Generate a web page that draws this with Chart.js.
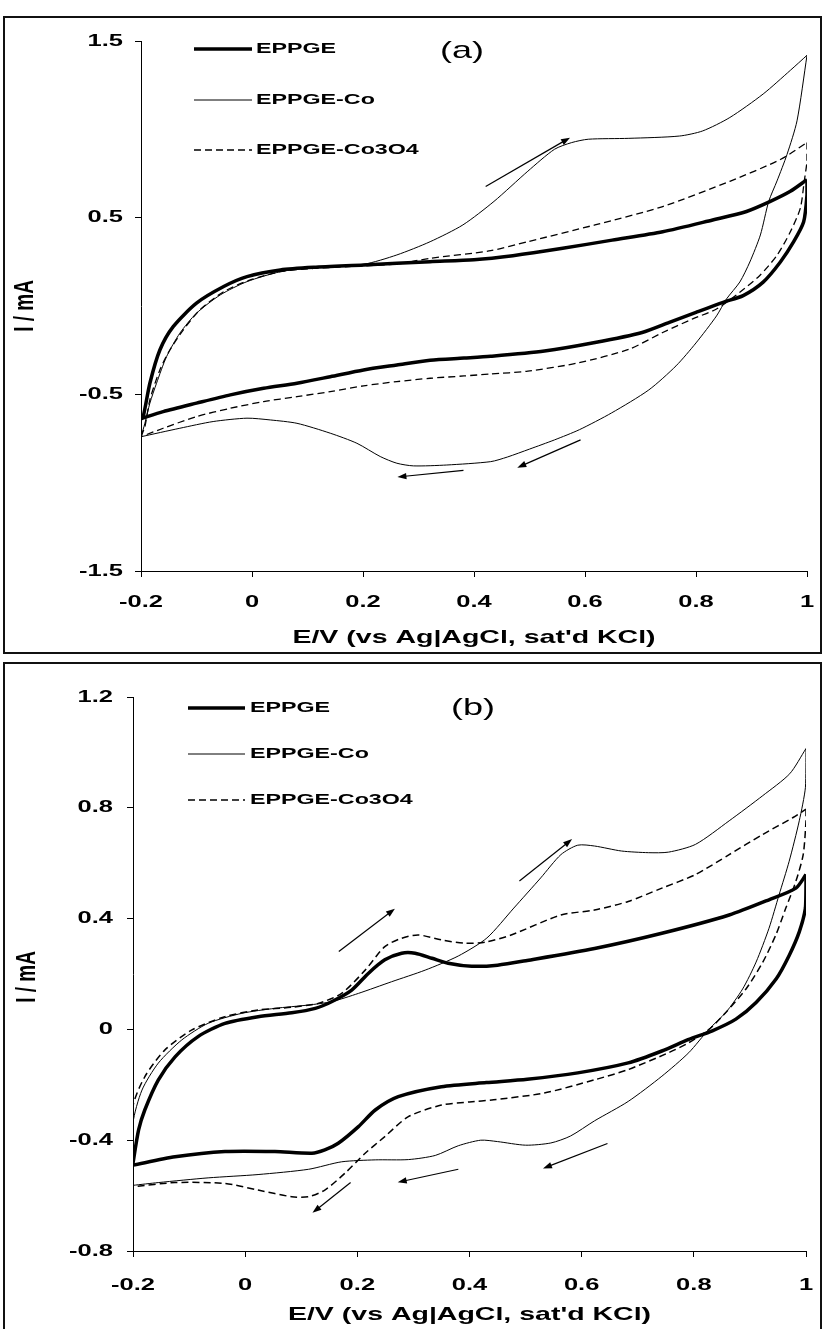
<!DOCTYPE html>
<html>
<head>
<meta charset="utf-8">
<script src="https://cdn.jsdelivr.net/npm/chart.js@4.4.1/dist/chart.umd.min.js"></script>
<style>
  html, body { margin: 0; padding: 0; background: #fff; width: 823px; height: 1329px; overflow: hidden; }
  .frame { position: absolute; border: 2px solid #111; box-sizing: border-box; }
  canvas { position: absolute; left: 0; }
</style>
</head>
<body>
<div class="frame" style="left:3px;top:16px;width:819px;height:638px"></div>
<div class="frame" style="left:3px;top:662px;width:819px;height:700px"></div>
<canvas id="chartA" width="823" height="653" style="top:0;width:823px;height:653px"></canvas>
<canvas id="chartB" width="823" height="674" style="top:655px;width:823px;height:674px"></canvas>
<script>
// axis ticks and labels
const xTicks = [-0.2, 0, 0.2, 0.4, 0.6, 0.8, 1];
const aYTicks = [-1.5, -0.5, 0.5, 1.5];
const bYTicks = [-0.8, -0.4, 0, 0.4, 0.8, 1.2];
const seriesNames = ['EPPGE', 'EPPGE-Co', 'EPPGE-Co3O4'];
const xTitle = "E/V (vs Ag|AgCl, sat'd KCl)";
const yTitle = 'I / mA';

// ---- (a) : [E, I] pairs, forward (anodic) and reverse sweep
const aEppgeFwd = [[-0.2,-0.638],[-0.196,-0.626],[-0.184,-0.437],[-0.166,-0.249],[-0.142,-0.117],[-0.1,0.016],[-0.051,0.11],[-0.009,0.166],[0.051,0.204],[0.111,0.219],[0.201,0.232],[0.321,0.251],[0.4,0.262],[0.47,0.285],[0.557,0.325],[0.649,0.373],[0.74,0.42],[0.83,0.487],[0.891,0.535],[0.934,0.592],[0.97,0.649],[1.0,0.715]];
const aEppgeRev = [[1.0,0.715],[1.0,0.63],[0.994,0.477],[0.976,0.364],[0.952,0.249],[0.921,0.135],[0.885,0.059],[0.849,0.021],[0.8,-0.036],[0.752,-0.093],[0.703,-0.15],[0.618,-0.207],[0.527,-0.255],[0.43,-0.285],[0.382,-0.295],[0.321,-0.307],[0.261,-0.334],[0.201,-0.362],[0.141,-0.4],[0.081,-0.437],[0.021,-0.466],[-0.039,-0.503],[-0.1,-0.55],[-0.16,-0.598],[-0.2,-0.638]];
const aCoFwd = [[-0.2,-0.74],[-0.193,-0.664],[-0.184,-0.55],[-0.172,-0.437],[-0.154,-0.287],[-0.13,-0.154],[-0.1,-0.041],[-0.057,0.063],[-0.009,0.138],[0.051,0.194],[0.111,0.217],[0.201,0.236],[0.261,0.289],[0.321,0.364],[0.38,0.459],[0.436,0.592],[0.497,0.763],[0.545,0.887],[0.576,0.925],[0.606,0.944],[0.679,0.949],[0.77,0.962],[0.812,0.991],[0.861,1.067],[0.921,1.2],[0.97,1.334],[1.0,1.419]];
const aCoRev = [[1.0,1.419],[0.982,1.048],[0.964,0.858],[0.946,0.708],[0.931,0.592],[0.916,0.402],[0.897,0.249],[0.879,0.136],[0.855,0.04],[0.837,-0.056],[0.8,-0.209],[0.764,-0.339],[0.715,-0.475],[0.648,-0.605],[0.59,-0.7],[0.545,-0.758],[0.5,-0.81],[0.46,-0.855],[0.43,-0.881],[0.351,-0.9],[0.291,-0.905],[0.261,-0.89],[0.231,-0.852],[0.189,-0.777],[0.141,-0.72],[0.081,-0.664],[0.033,-0.645],[-0.009,-0.635],[-0.07,-0.654],[-0.13,-0.692],[-0.2,-0.74]];
const aOxFwd = [[-0.2,-0.74],[-0.193,-0.683],[-0.184,-0.531],[-0.166,-0.362],[-0.148,-0.249],[-0.124,-0.136],[-0.094,-0.022],[-0.051,0.081],[-0.003,0.148],[0.051,0.194],[0.111,0.213],[0.201,0.227],[0.261,0.238],[0.321,0.27],[0.43,0.313],[0.497,0.364],[0.618,0.459],[0.74,0.563],[0.861,0.706],[0.952,0.829],[1.0,0.925]];
const aOxRev = [[1.0,0.925],[1.0,0.82],[0.995,0.706],[0.988,0.554],[0.97,0.42],[0.946,0.287],[0.915,0.173],[0.879,0.078],[0.837,-0.017],[0.794,-0.073],[0.74,-0.15],[0.679,-0.245],[0.588,-0.322],[0.497,-0.369],[0.43,-0.385],[0.382,-0.396],[0.321,-0.409],[0.261,-0.428],[0.201,-0.452],[0.141,-0.485],[0.081,-0.513],[0.021,-0.541],[-0.039,-0.579],[-0.1,-0.626],[-0.16,-0.692],[-0.2,-0.74]];
const aArrows = [[[0.421,0.677],[0.573,0.953]], [[0.592,-0.758],[0.478,-0.915]], [[0.381,-0.93],[0.262,-0.968]]];

// ---- (b)
const bEppgeFwd = [[-0.2,-0.49],[-0.2,-0.483],[-0.19,-0.363],[-0.179,-0.291],[-0.155,-0.183],[-0.125,-0.099],[-0.084,-0.026],[-0.036,0.022],[0.023,0.046],[0.083,0.06],[0.125,0.076],[0.154,0.1],[0.19,0.142],[0.22,0.203],[0.249,0.251],[0.279,0.275],[0.303,0.275],[0.333,0.257],[0.362,0.239],[0.404,0.228],[0.45,0.232],[0.503,0.249],[0.623,0.292],[0.743,0.347],[0.863,0.413],[0.934,0.468],[0.982,0.51],[1.0,0.559]];
const bEppgeRev = [[1.0,0.559],[1.0,0.522],[0.999,0.438],[0.988,0.352],[0.97,0.267],[0.947,0.183],[0.911,0.097],[0.875,0.037],[0.833,-0.005],[0.791,-0.036],[0.743,-0.078],[0.683,-0.121],[0.593,-0.157],[0.503,-0.18],[0.43,-0.192],[0.35,-0.207],[0.273,-0.243],[0.232,-0.291],[0.202,-0.351],[0.166,-0.411],[0.142,-0.435],[0.119,-0.447],[0.053,-0.441],[-0.036,-0.441],[-0.125,-0.46],[-0.2,-0.49]];
const bCoFwd = [[-0.2,-0.563],[-0.2,-0.339],[-0.184,-0.219],[-0.155,-0.122],[-0.113,-0.038],[-0.066,0.022],[-0.006,0.058],[0.053,0.076],[0.113,0.088],[0.154,0.1],[0.202,0.13],[0.261,0.172],[0.321,0.214],[0.38,0.265],[0.431,0.33],[0.479,0.438],[0.527,0.547],[0.563,0.631],[0.593,0.665],[0.623,0.662],[0.671,0.644],[0.719,0.638],[0.755,0.64],[0.803,0.668],[0.863,0.753],[0.923,0.844],[0.971,0.923],[1.0,1.014]];
const bCoRev = [[1.0,1.014],[0.999,0.874],[0.988,0.753],[0.97,0.607],[0.952,0.486],[0.934,0.365],[0.911,0.243],[0.887,0.146],[0.857,0.061],[0.827,0.001],[0.791,-0.084],[0.743,-0.169],[0.683,-0.26],[0.623,-0.33],[0.58,-0.385],[0.545,-0.41],[0.5,-0.418],[0.45,-0.405],[0.42,-0.4],[0.38,-0.42],[0.339,-0.455],[0.291,-0.47],[0.232,-0.471],[0.172,-0.478],[0.113,-0.505],[0.023,-0.524],[-0.066,-0.536],[-0.155,-0.553],[-0.2,-0.563]];
const bOxFwd = [[-0.2,-0.568],[-0.2,-0.279],[-0.179,-0.171],[-0.143,-0.074],[-0.095,-0.002],[-0.036,0.046],[0.023,0.07],[0.083,0.08],[0.13,0.094],[0.172,0.13],[0.214,0.214],[0.249,0.299],[0.279,0.329],[0.309,0.341],[0.35,0.323],[0.392,0.311],[0.428,0.315],[0.473,0.34],[0.563,0.413],[0.623,0.431],[0.683,0.462],[0.743,0.51],[0.803,0.559],[0.863,0.631],[0.923,0.704],[0.977,0.765],[1.0,0.795]];
const bOxRev = [[1.0,0.795],[1.0,0.753],[0.995,0.631],[0.982,0.535],[0.964,0.438],[0.946,0.34],[0.923,0.243],[0.893,0.146],[0.857,0.061],[0.827,0.0],[0.791,-0.048],[0.755,-0.084],[0.683,-0.145],[0.623,-0.182],[0.533,-0.23],[0.443,-0.254],[0.4,-0.262],[0.35,-0.273],[0.291,-0.315],[0.249,-0.387],[0.214,-0.447],[0.178,-0.519],[0.142,-0.58],[0.113,-0.604],[0.083,-0.604],[0.023,-0.58],[-0.036,-0.556],[-0.125,-0.553],[-0.2,-0.568]];
const bArrows = [[[0.167,0.281],[0.267,0.436]], [[0.489,0.536],[0.583,0.687]], [[0.646,-0.412],[0.531,-0.502]], [[0.38,-0.505],[0.272,-0.552]], [[0.188,-0.553],[0.12,-0.662]]];

// the original figure is stretched sideways, so text is drawn wider than normal
const SX = 1.5;
const FAMILY = '"Liberation Sans", Arial, sans-serif';

function drawText(ctx, txt, x, y, align, font, vertical) {
    ctx.save();
    ctx.translate(x, y);
    ctx.scale(SX, 1);
    if (vertical) ctx.rotate(-Math.PI / 2);
    ctx.font = font;
    ctx.fillStyle = '#000';
    ctx.textAlign = align;
    ctx.textBaseline = 'middle';
    ctx.fillText(txt, 0, 0);
    ctx.restore();
}

function makeDecor(cfg) {
    return {
        id: 'decor',
        afterDraw(chart) {
            const ctx = chart.ctx;
            const xs = chart.scales.x, ys = chart.scales.y;
            const area = chart.chartArea;
            const tickFont = 'bold 17px ' + FAMILY;
            const titleFont = 'bold 19px ' + FAMILY;

            xTicks.forEach(v => drawText(ctx, String(v), xs.getPixelForValue(v), cfg.xLabelY, 'center', tickFont));
            cfg.yTicks.forEach(v => drawText(ctx, String(v), cfg.yLabelX, ys.getPixelForValue(v), 'right', tickFont));
            drawText(ctx, xTitle, (area.left + area.right) / 2, cfg.xTitleY, 'center', titleFont);
            drawText(ctx, yTitle, cfg.yTitleX, cfg.yTitleY, 'center', titleFont, true);

            // legend inside the plot
            seriesNames.forEach((name, i) => {
                const st = cfg.styles[i];
                const y = cfg.legendY[i];
                ctx.save();
                ctx.strokeStyle = '#000';
                ctx.lineWidth = st.width;
                ctx.setLineDash(st.dash);
                ctx.beginPath();
                ctx.moveTo(cfg.legendX[0], y);
                ctx.lineTo(cfg.legendX[1], y);
                ctx.stroke();
                ctx.restore();
                drawText(ctx, name, cfg.legendX[1] + cfg.legendGap, y, 'left', 'bold 15.5px ' + FAMILY);
            });

            drawText(ctx, cfg.label, cfg.labelX, cfg.labelY, 'left', '24px ' + FAMILY);

            // sweep direction arrows
            ctx.save();
            ctx.strokeStyle = '#000';
            ctx.fillStyle = '#000';
            ctx.lineWidth = 1.2;
            cfg.arrows.forEach(([p, q]) => {
                const x1 = xs.getPixelForValue(p[0]), y1 = ys.getPixelForValue(p[1]);
                const x2 = xs.getPixelForValue(q[0]), y2 = ys.getPixelForValue(q[1]);
                const ang = Math.atan2(y2 - y1, x2 - x1);
                ctx.beginPath();
                ctx.moveTo(x1, y1);
                ctx.lineTo(x2 - 5 * Math.cos(ang), y2 - 5 * Math.sin(ang));
                ctx.stroke();
                ctx.beginPath();
                ctx.moveTo(x2, y2);
                ctx.lineTo(x2 - 9 * Math.cos(ang) + 3.2 * Math.sin(ang), y2 - 9 * Math.sin(ang) - 3.2 * Math.cos(ang));
                ctx.lineTo(x2 - 9 * Math.cos(ang) - 3.2 * Math.sin(ang), y2 - 9 * Math.sin(ang) + 3.2 * Math.cos(ang));
                ctx.closePath();
                ctx.fill();
            });
            ctx.restore();
        }
    };
}

function buildDatasets(branches, styles) {
    const out = [];
    branches.forEach((pair, i) => {
        pair.forEach(branch => out.push({
            label: seriesNames[i],
            data: branch.map(([x, y]) => ({ x, y })),
            showLine: true,
            borderColor: '#000',
            borderWidth: styles[i].width,
            borderDash: styles[i].dash,
            pointRadius: 0,
            pointHoverRadius: 0,
            tension: 0.25,
            fill: false
        }));
    });
    return out;
}

function buildScales(yMin, yMax, yTickVals, yWidth, xHeight) {
    const grid = { drawOnChartArea: false, drawTicks: true, tickLength: 6, color: '#000', lineWidth: 1 };
    const border = { color: '#000', width: 1 };
    return {
        x: {
            type: 'linear', min: -0.2, max: 1,
            grid, border, ticks: { display: false },
            afterBuildTicks: s => { s.ticks = xTicks.map(v => ({ value: v })); },
            afterFit: s => { s.height = xHeight; s.paddingLeft = 0; s.paddingRight = 0; }
        },
        y: {
            type: 'linear', min: yMin, max: yMax,
            grid, border, ticks: { display: false },
            afterBuildTicks: s => { s.ticks = yTickVals.map(v => ({ value: v })); },
            afterFit: s => { s.width = yWidth; s.paddingTop = 0; s.paddingBottom = 0; }
        }
    };
}

function makeChart(id, branches, styles, scales, padding, decor) {
    return new Chart(document.getElementById(id), {
        type: 'scatter',
        data: { datasets: buildDatasets(branches, styles) },
        options: {
            responsive: false,
            animation: false,
            events: [],
            layout: { padding },
            plugins: { legend: { display: false }, tooltip: { enabled: false } },
            scales
        },
        plugins: [makeDecor(decor)]
    });
}

const aStyles = [{ width: 3.5, dash: [] }, { width: 1, dash: [] }, { width: 1.3, dash: [7, 4] }];
const bStyles = [{ width: 3.5, dash: [] }, { width: 1, dash: [] }, { width: 1.5, dash: [7, 4] }];

makeChart('chartA',
    [[aEppgeFwd, aEppgeRev], [aCoFwd, aCoRev], [aOxFwd, aOxRev]],
    aStyles,
    buildScales(-1.5, 1.5, aYTicks, 141, 82),
    { top: 41, right: 16, left: 0, bottom: 0 },
    { yTicks: aYTicks, xLabelY: 602, yLabelX: 123, xTitleY: 638, yTitleX: 25, yTitleY: 306,
      legendX: [194, 252], legendGap: 4, legendY: [49, 100, 150], styles: aStyles,
      label: '(a)', labelX: 440, labelY: 51, arrows: aArrows });

makeChart('chartB',
    [[bEppgeFwd, bEppgeRev], [bCoFwd, bCoRev], [bOxFwd, bOxRev]],
    bStyles,
    buildScales(-0.8, 1.2, bYTicks, 133, 78),
    { top: 42, right: 17, left: 0, bottom: 0 },
    { yTicks: bYTicks, xLabelY: 630, yLabelX: 113, xTitleY: 660, yTitleX: 27, yTitleY: 322,
      legendX: [188, 245], legendGap: 5, legendY: [53, 99, 145], styles: bStyles,
      label: '(b)', labelX: 451, labelY: 53, arrows: bArrows });
</script>
</body>
</html>
